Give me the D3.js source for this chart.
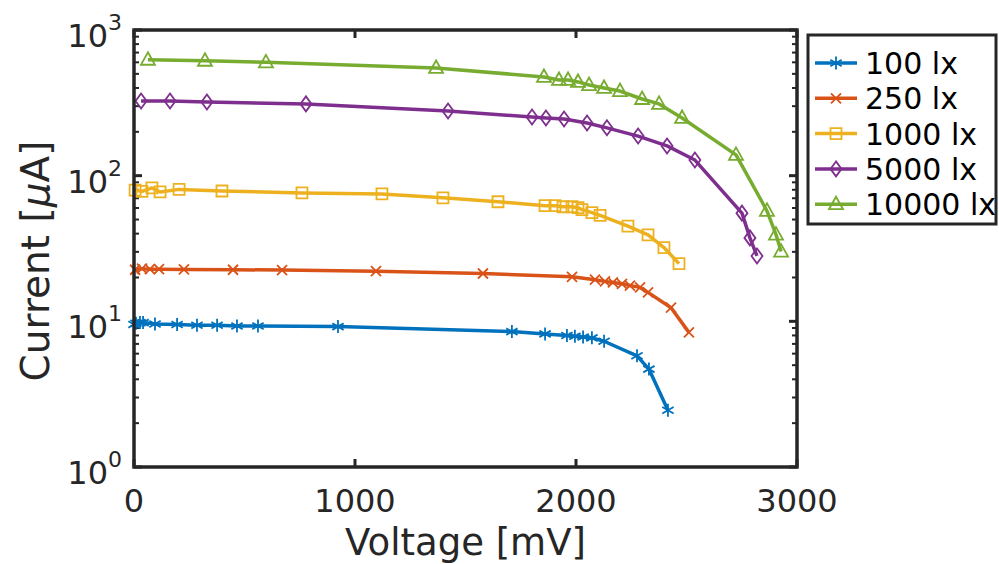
<!DOCTYPE html>
<html lang="en">
<head>
    <meta charset="UTF-8">
    <title>Current vs Voltage</title>
    <script src="https://cdnjs.cloudflare.com/ajax/libs/d3/7.8.2/d3.min.js"></script>
    <style>
        body {
            margin: 0;
            background: #fff;
            font-family: "DejaVu Sans", sans-serif;
        }
        svg text {
            fill: #262626;
        }
    </style>
</head>
<body>
    <div id="chart"></div>

    <script>
        // Data (voltage in mV, current in uA)
        const voltage100 = [0, 9, 27, 41, 95, 195, 285, 376, 466, 561, 923, 1710, 1860, 1959, 1995, 2032, 2072, 2127, 2276, 2330, 2416];
        const current100 = [9.5, 9.7, 9.8, 9.8, 9.6, 9.5, 9.4, 9.4, 9.3, 9.3, 9.2, 8.5, 8.2, 8.0, 7.9, 7.8, 7.7, 7.3, 5.8, 4.7, 2.45];

        const voltage250 = [5, 36, 72, 113, 226, 448, 670, 1095, 1579, 1982, 2086, 2131, 2167, 2208, 2244, 2290, 2326, 2430, 2511];
        const current250 = [22.6, 23.0, 22.8, 22.8, 22.7, 22.6, 22.5, 22.1, 21.3, 20.2, 19.3, 18.8, 18.5, 18.1, 17.6, 17.1, 15.8, 12.4, 8.4];

        const voltage1000 = [5, 36, 81, 118, 204, 398, 760, 1122, 1398, 1647, 1860, 1905, 1941, 1982, 2009, 2027, 2072, 2109, 2235, 2326, 2398, 2466];
        const current1000 = [79.5, 78, 82.4, 77.3, 80.5, 78.5, 76.1, 74.9, 70.4, 66.2, 62.2, 62.2, 61.2, 61.2, 60.3, 58.4, 55.8, 53.3, 45.0, 39.2, 32.1, 24.9];

        const voltage5000 = [32, 163, 330, 778, 1421, 1801, 1864, 1946, 2050, 2140, 2281, 2412, 2538, 2751, 2787, 2819];
        const current5000 = [326, 326, 320, 311, 278, 253, 249, 245, 230, 213, 187, 160, 128, 55.3, 37.4, 28.1];

        const voltage10000 = [63, 321, 597, 1367, 1855, 1923, 1964, 2009, 2059, 2127, 2199, 2299, 2376, 2480, 2724, 2864, 2905, 2928];
        const current10000 = [625, 615, 600, 549, 476, 454, 454, 440, 419, 400, 381, 336, 311, 249, 139, 57.4, 39.4, 30.1];

        const seriesNames = ["100 lx", "250 lx", "1000 lx", "5000 lx", "10000 lx"];
        const seriesColors = ["#0072BD", "#D95319", "#EDB120", "#7E2F8E", "#77AC30"];
        const seriesMarkers = ["asterisk", "times", "square", "diamond", "triangle"];
        const seriesVoltage = [voltage100, voltage250, voltage1000, voltage5000, voltage10000];
        const seriesCurrent = [current100, current250, current1000, current5000, current10000];

        const xTicks = [0, 1000, 2000, 3000];
        const yTicks = [1, 10, 100, 1000];

        const series = seriesNames.map((name, k) => ({
            name: name,
            color: seriesColors[k],
            marker: seriesMarkers[k],
            points: seriesVoltage[k].map((v, j) => ({ v: v, i: seriesCurrent[k][j] }))
        }));

        const width = 999, height = 564;
        const plot = { left: 134, right: 797, top: 30, bottom: 467 };

        const svg = d3.select("#chart")
            .append("svg")
            .attr("width", width)
            .attr("height", height);

        const x = d3.scaleLinear().domain([0, 3000]).range([plot.left, plot.right]);
        const y = d3.scaleLog().domain([1, 1000]).range([plot.bottom, plot.top]);

        // marker shapes drawn as paths (matlab style)
        function markerPath(type) {
            if (type === "asterisk") {
                const s = 6.5;
                return `M0,${-s}L0,${s}M${-s * 0.87},${-s / 2}L${s * 0.87},${s / 2}M${-s * 0.87},${s / 2}L${s * 0.87},${-s / 2}`;
            }
            if (type === "times") {
                const s = 5;
                return `M${-s},${-s}L${s},${s}M${-s},${s}L${s},${-s}`;
            }
            if (type === "square") {
                const s = 5.5;
                return `M${-s},${-s}L${s},${-s}L${s},${s}L${-s},${s}Z`;
            }
            if (type === "diamond") {
                return "M0,-7.5L5.5,0L0,7.5L-5.5,0Z";
            }
            if (type === "triangle") {
                return "M0,-7.5L7,5L-7,5Z";
            }
            return "";
        }

        // minor ticks for the log axis
        const minorY = [];
        [1, 10, 100].forEach(d => {
            for (let k = 2; k <= 9; k++) minorY.push(k * d);
        });

        const ticks = svg.append("g")
            .attr("stroke", "#262626")
            .attr("stroke-width", 2);

        minorY.forEach(v => {
            ticks.append("line").attr("x1", plot.left).attr("x2", plot.left + 5).attr("y1", y(v)).attr("y2", y(v));
            ticks.append("line").attr("x1", plot.right).attr("x2", plot.right - 5).attr("y1", y(v)).attr("y2", y(v));
        });
        yTicks.forEach(v => {
            ticks.append("line").attr("x1", plot.left).attr("x2", plot.left + 8).attr("y1", y(v)).attr("y2", y(v)).attr("stroke-width", 3);
            ticks.append("line").attr("x1", plot.right).attr("x2", plot.right - 8).attr("y1", y(v)).attr("y2", y(v)).attr("stroke-width", 3);
        });
        xTicks.forEach(v => {
            ticks.append("line").attr("x1", x(v)).attr("x2", x(v)).attr("y1", plot.bottom).attr("y2", plot.bottom - 8).attr("stroke-width", 3);
            ticks.append("line").attr("x1", x(v)).attr("x2", x(v)).attr("y1", plot.top).attr("y2", plot.top + 8).attr("stroke-width", 3);
        });

        // series lines + markers
        const line = d3.line()
            .x(d => x(d.v))
            .y(d => y(d.i));

        const seriesG = svg.append("g")
            .selectAll("g")
            .data(series)
            .enter()
            .append("g");

        seriesG.append("path")
            .attr("d", d => line(d.points))
            .attr("fill", "none")
            .attr("stroke", d => d.color)
            .attr("stroke-width", 3.5)
            .attr("stroke-linejoin", "round");

        seriesG.each(function(s) {
            d3.select(this).selectAll("path.mk")
                .data(s.points)
                .enter()
                .append("path")
                .attr("class", "mk")
                .attr("d", markerPath(s.marker))
                .attr("transform", d => `translate(${x(d.v)},${y(d.i)})`)
                .attr("fill", "none")
                .attr("stroke", s.color)
                .attr("stroke-width", 1.8);
        });

        // frame
        svg.append("rect")
            .attr("x", plot.left)
            .attr("y", plot.top)
            .attr("width", plot.right - plot.left)
            .attr("height", plot.bottom - plot.top)
            .attr("fill", "none")
            .attr("stroke", "#262626")
            .attr("stroke-width", 3.5);

        // tick labels
        svg.append("g")
            .selectAll("text")
            .data(xTicks)
            .enter()
            .append("text")
            .attr("x", d => x(d))
            .attr("y", 512)
            .attr("text-anchor", "middle")
            .attr("font-size", 32)
            .text(d => d);

        const yLab = svg.append("g")
            .selectAll("text")
            .data(yTicks)
            .enter()
            .append("text")
            .attr("x", plot.left - 12)
            .attr("y", d => y(d) + 17)
            .attr("text-anchor", "end")
            .attr("font-size", 32);
        yLab.append("tspan").text("10");
        yLab.append("tspan")
            .attr("font-size", 22)
            .attr("dy", -17)
            .text(d => Math.round(Math.log10(d)));

        // axis titles
        svg.append("text")
            .attr("x", (plot.left + plot.right) / 2)
            .attr("y", 555)
            .attr("text-anchor", "middle")
            .attr("font-size", 37)
            .text("Voltage [mV]");

        const yTitle = svg.append("text")
            .attr("transform", `translate(49, 261) rotate(-90)`)
            .attr("text-anchor", "middle")
            .attr("font-size", 39);
        yTitle.append("tspan").text("Current [");
        yTitle.append("tspan").attr("font-style", "italic").text("\u03bc");
        yTitle.append("tspan").text("A]");

        // legend
        const legend = svg.append("g");
        legend.append("rect")
            .attr("x", 808)
            .attr("y", 35)
            .attr("width", 188)
            .attr("height", 189)
            .attr("fill", "#fff")
            .attr("stroke", "#262626")
            .attr("stroke-width", 3);

        const item = legend.selectAll("g.item")
            .data(series)
            .enter()
            .append("g")
            .attr("class", "item")
            .attr("transform", (d, k) => `translate(0, ${63 + k * 35.3})`);

        item.append("line")
            .attr("x1", 815)
            .attr("x2", 857)
            .attr("stroke", d => d.color)
            .attr("stroke-width", 3.5);
        item.append("path")
            .attr("d", d => markerPath(d.marker))
            .attr("transform", "translate(836,0)")
            .attr("fill", "none")
            .attr("stroke", d => d.color)
            .attr("stroke-width", 1.8);
        item.append("text")
            .attr("x", 865)
            .attr("y", 11)
            .attr("font-size", 30)
            .style("fill", "#000")
            .text(d => d.name);
    </script>
</body>
</html>
